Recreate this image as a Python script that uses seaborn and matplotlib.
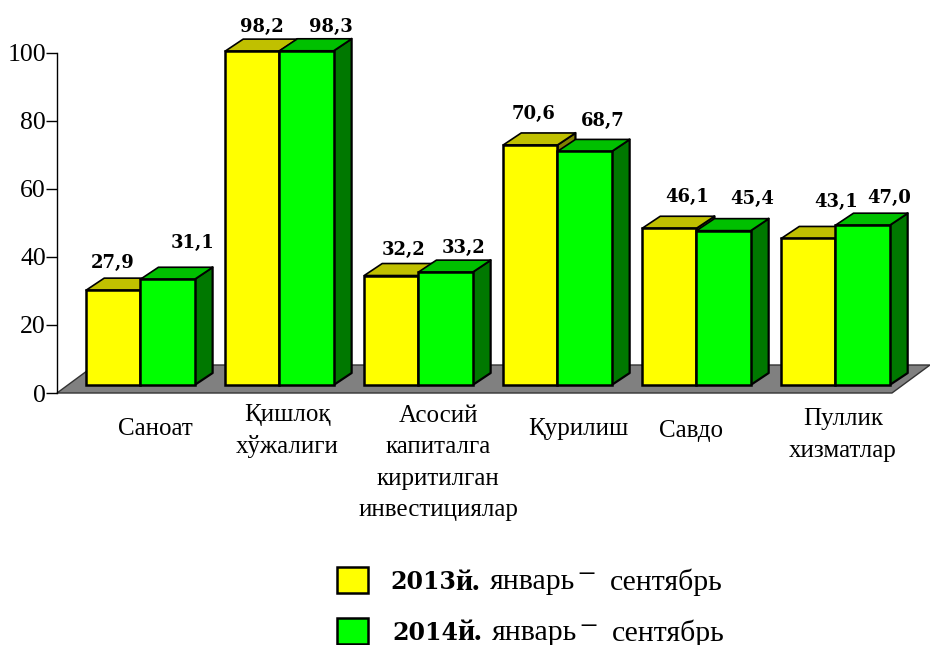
import numpy as np
import pandas as pd
import seaborn as sns
import matplotlib.pyplot as plt
from matplotlib.colors import to_hex
from matplotlib.patches import Polygon, Rectangle

# data
categories = ["Саноат", "Қишлоқ\nхўжалиги", "Асосий\nкапиталга\nкиритилган\nинвестициялар",
              "Қурилиш", "Савдо", "Пуллик\nхизматлар"]
series_names = ["2013", "2014"]
values_2013 = [27.9, 98.2, 32.2, 70.6, 46.1, 43.1]
values_2014 = [31.1, 98.3, 33.2, 68.7, 45.4, 47.0]
y_ticks = [0, 20, 40, 60, 80, 100]
period_parts = ["й.", "январь", "−", "сентябрь"]

W, H = 930, 645
YELLOW, GREEN = "#ffff00", "#00ff00"
SHADES = {YELLOW: ("#c0c000", "#808000"), GREEN: ("#00c000", "#007800")}
SERIF = "Liberation Serif"
LABEL_FONT = "DejaVu Serif"

# label centres in pixels, the picture does not place them regularly
value_pos = [(113, 263), (262, 27), (404, 250), (534, 114), (687, 197), (836, 202),
             (193, 243), (331, 27), (464, 248), (603, 121), (752, 199), (889, 198)]
cat_pos = [(155, 429), (287, 431), (438, 463), (578, 429), (691, 431), (843, 435)]
# left edge of the legend words, first row
part_x = [455, 490, 577, 610]


def fx(px):
    return px / W


def fy(py):
    return 1 - py / H


df = pd.DataFrame({
    "category": categories * 2,
    "year": np.repeat(series_names, len(categories)),
    "value": values_2013 + values_2014,
})

sns.set_theme(style="white")
fig = plt.figure(figsize=(W / 100, H / 100), dpi=100)
ax = fig.add_axes([fx(57), fy(393), (930 - 57) / W, (393 - 53) / H])
ax.patch.set_alpha(0)

sns.barplot(data=df, x="category", y="value", hue="year", hue_order=series_names,
            palette=[YELLOW, GREEN], width=0.78, gap=0, saturation=1,
            edgecolor="black", linewidth=1.8, legend=False, ax=ax)

ax.set_xlim(-0.6, 5.68)
ax.set_ylim(0, 100)
ax.set_xlabel("")
ax.set_ylabel("")
ax.set_xticks([])
ax.set_yticks(y_ticks)
ax.set_yticklabels([str(t) for t in y_ticks], family=SERIF, fontsize=18.5, color="black")
ax.tick_params(axis="y", length=8, width=1, color="black", left=True, pad=0)
for name in ["top", "right", "bottom"]:
    ax.spines[name].set_visible(False)
ax.spines["left"].set_color("black")
ax.spines["left"].set_linewidth(1)

# sizes of the fake 3d in data units
to_x = (5.68 + 0.6) / (930 - 57)
to_y = 100 / (393 - 53)
depth_x, depth_y = 18 * to_x, 12 * to_y
lift = 8 * to_y

bars = sorted(ax.patches, key=lambda p: p.get_x())

# floor
left = -0.6
right = left + (892 - 57) * to_x
floor_x, floor_y = 38 * to_x, 28 * to_y
ax.add_patch(Polygon([(left, 0), (right, 0), (right + floor_x, floor_y), (left + floor_x, floor_y)],
                     closed=True, facecolor="#808080", edgecolor="#333333", linewidth=1,
                     zorder=0.5, clip_on=False))

# give every bar a top and a side, left to right so later bars cover earlier ones
z = 2
for bar in bars:
    bar.set_y(lift)
    xa, w, h = bar.get_x(), bar.get_width(), bar.get_height()
    xb = xa + w
    top = lift + h
    shade_top, shade_side = SHADES[to_hex(bar.get_facecolor())]
    side = Polygon([(xb, lift), (xb + depth_x, lift + depth_y), (xb + depth_x, top + depth_y), (xb, top)],
                   closed=True, facecolor=shade_side, edgecolor="black", linewidth=1.6,
                   joinstyle="round", zorder=z, clip_on=False)
    lid = Polygon([(xa, top), (xa + depth_x, top + depth_y), (xb + depth_x, top + depth_y), (xb, top)],
                  closed=True, facecolor=shade_top, edgecolor="black", linewidth=1.2,
                  joinstyle="round", zorder=z + 0.1, clip_on=False)
    ax.add_patch(side)
    ax.add_patch(lid)
    bar.set_zorder(z + 0.2)
    bar.set_clip_on(False)
    z += 1

# value labels
all_values = values_2013 + values_2014
for val, (px, py) in zip(all_values, value_pos):
    fig.text(fx(px), fy(py), f"{val:.1f}".replace(".", ","), ha="center", va="center",
             family=LABEL_FONT, fontweight="bold", fontsize=13, color="black")

# category labels
for cat, (px, py) in zip(categories, cat_pos):
    fig.text(fx(px), fy(py), cat, ha="center", va="center", family=SERIF,
             fontsize=18, linespacing=1.54, color="black")

# legend
for year, colour, box_y, shift in zip(series_names, [YELLOW, GREEN], [567, 618], [0, 2]):
    fig.add_artist(Rectangle((fx(337), fy(box_y + 26)), 31 / W, 26 / H, transform=fig.transFigure,
                             facecolor=colour, edgecolor="black", linewidth=1.8))
    fig.text(fx(390 + shift), fy(box_y + 15), year, ha="left", va="center", family=LABEL_FONT,
             fontweight="bold", fontsize=17, color="black")
    for part, px in zip(period_parts, part_x):
        is_dash = part == "−"
        fig.text(fx(px + shift), fy(box_y + (10 if is_dash else 15)), part, ha="left", va="center",
                 family=SERIF, fontsize=23 if is_dash else 21.5,
                 fontweight="bold" if part == "й." else "normal", color="black")

fig.savefig("out.png", dpi=100)
